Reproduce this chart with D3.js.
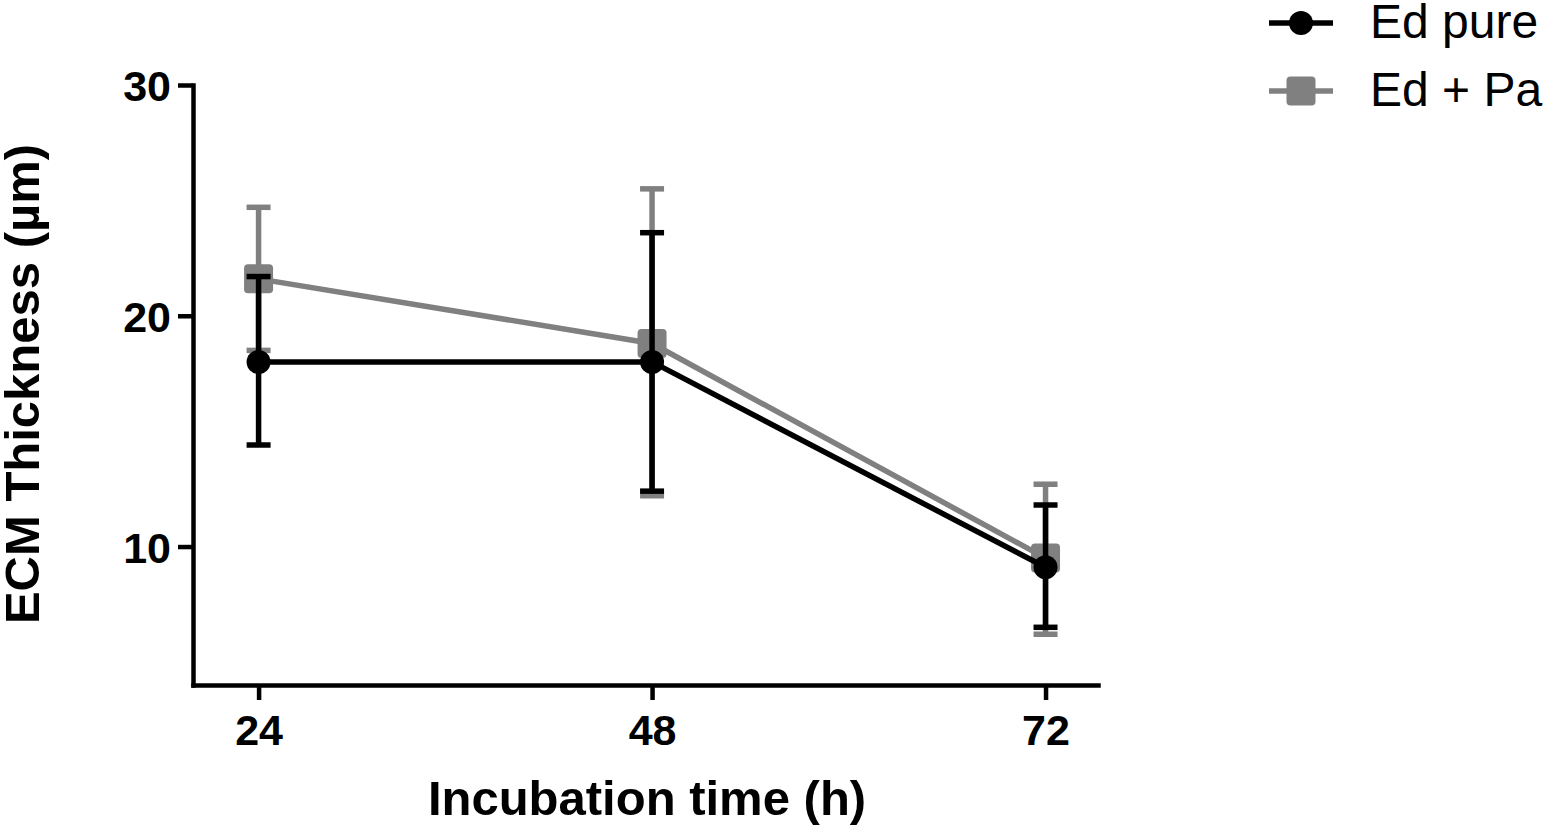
<!DOCTYPE html>
<html>
<head>
<meta charset="utf-8">
<script src="https://cdn.jsdelivr.net/npm/d3@7"></script>
<style>
  body { margin: 0; background: #fff; }
  svg { display: block; font-family: "Liberation Sans", Arial, sans-serif; }
</style>
</head>
<body>
<svg id="chart" width="1550" height="828"></svg>
<script>
// data
var times = [24, 48, 72];
var seriesNames = ["Ed pure", "Ed + Pa"];
var edPureMean = [18.0, 18.0, 9.1];
var edPureLow  = [14.4, 12.4, 6.5];
var edPureHigh = [21.7, 23.6, 11.8];
var edPaMean = [21.6, 18.8, 9.5];
var edPaLow  = [18.5, 12.2, 6.2];
var edPaHigh = [24.7, 25.5, 12.7];
var yTicks = [10, 20, 30];

var svg = d3.select("#chart");

var x = d3.scaleLinear().domain([20, 75.2]).range([193, 1098]);
var y = d3.scaleLinear().domain([4, 30]).range([685, 85]);

// --- AXES --- \\
var yAxis = svg.append("g")
	.attr("transform", "translate(193,0)")
	.call(d3.axisLeft(y).tickValues(yTicks).tickSize(15).tickSizeOuter(0).tickPadding(7));

var xAxis = svg.append("g")
	.attr("transform", "translate(0,685)")
	.call(d3.axisBottom(x).tickValues(times).tickSize(15).tickSizeOuter(0).tickPadding(14));

[yAxis, xAxis].forEach(function(ax) {
	ax.select(".domain").attr("stroke", "#000").attr("stroke-width", 4.5).attr("stroke-linecap", "square");
	ax.selectAll(".tick line").attr("stroke", "#000").attr("stroke-width", 4.5);
	ax.selectAll(".tick text")
		.attr("fill", "#000")
		.style("font-size", "43px")
		.style("font-weight", "bold");
});
xAxis.selectAll(".tick text").attr("dy", "0.72em");
yAxis.selectAll(".tick text").attr("dy", "0.36em");

svg.append("text")
	.attr("x", 647).attr("y", 815)
	.attr("text-anchor", "middle")
	.style("font-size", "49px").style("font-weight", "bold")
	.text("Incubation time (h)");

svg.append("text")
	.attr("transform", "translate(39,384) rotate(-90)")
	.attr("text-anchor", "middle")
	.style("font-size", "49px").style("font-weight", "bold")
	.text("ECM Thickness (\u00b5m)");

// --- SERIES --- \\
var series = [
	{ name: seriesNames[1], mean: edPaMean, low: edPaLow, high: edPaHigh, color: "#808080", shape: "square" },
	{ name: seriesNames[0], mean: edPureMean, low: edPureLow, high: edPureHigh, color: "#000000", shape: "circle" }
];

var line = d3.line()
	.x(function(d) { return x(d.t); })
	.y(function(d) { return y(d.v); });

function drawMarker(g, shape, color, cx, cy) {
	if (shape === "circle") {
		g.append("circle").attr("cx", cx).attr("cy", cy).attr("r", 12).attr("fill", color);
	} else {
		g.append("rect").attr("x", cx - 14.5).attr("y", cy - 14.5)
			.attr("width", 29).attr("height", 29).attr("rx", 4).attr("fill", color);
	}
}

series.forEach(function(s) {
	var pts = times.map(function(t, i) { return { t: t, v: s.mean[i], lo: s.low[i], hi: s.high[i] }; });
	var g = svg.append("g");

	g.append("path")
		.datum(pts)
		.attr("d", line)
		.attr("fill", "none")
		.attr("stroke", s.color)
		.attr("stroke-width", 5.5);

	pts.forEach(function(p) {
		var cx = x(p.t);
		g.append("line").attr("x1", cx).attr("x2", cx).attr("y1", y(p.lo)).attr("y2", y(p.hi))
			.attr("stroke", s.color).attr("stroke-width", 5.5);
		[p.lo, p.hi].forEach(function(v) {
			g.append("line").attr("x1", cx - 12).attr("x2", cx + 12).attr("y1", y(v)).attr("y2", y(v))
				.attr("stroke", s.color).attr("stroke-width", 5.5);
		});
		drawMarker(g, s.shape, s.color, cx, y(p.v));
	});
});

// --- LEGEND --- \\
var legendRows = [series[1], series[0]];
legendRows.forEach(function(s, i) {
	var ly = 23 + i * 68;
	var g = svg.append("g");
	g.append("line").attr("x1", 1269).attr("x2", 1333).attr("y1", ly).attr("y2", ly)
		.attr("stroke", s.color).attr("stroke-width", 5.5);
	drawMarker(g, s.shape, s.color, 1301, ly);
	g.append("text").attr("x", 1370).attr("y", ly + 15)
		.style("font-size", "48px")
		.text(s.name);
});
</script>
</body>
</html>
